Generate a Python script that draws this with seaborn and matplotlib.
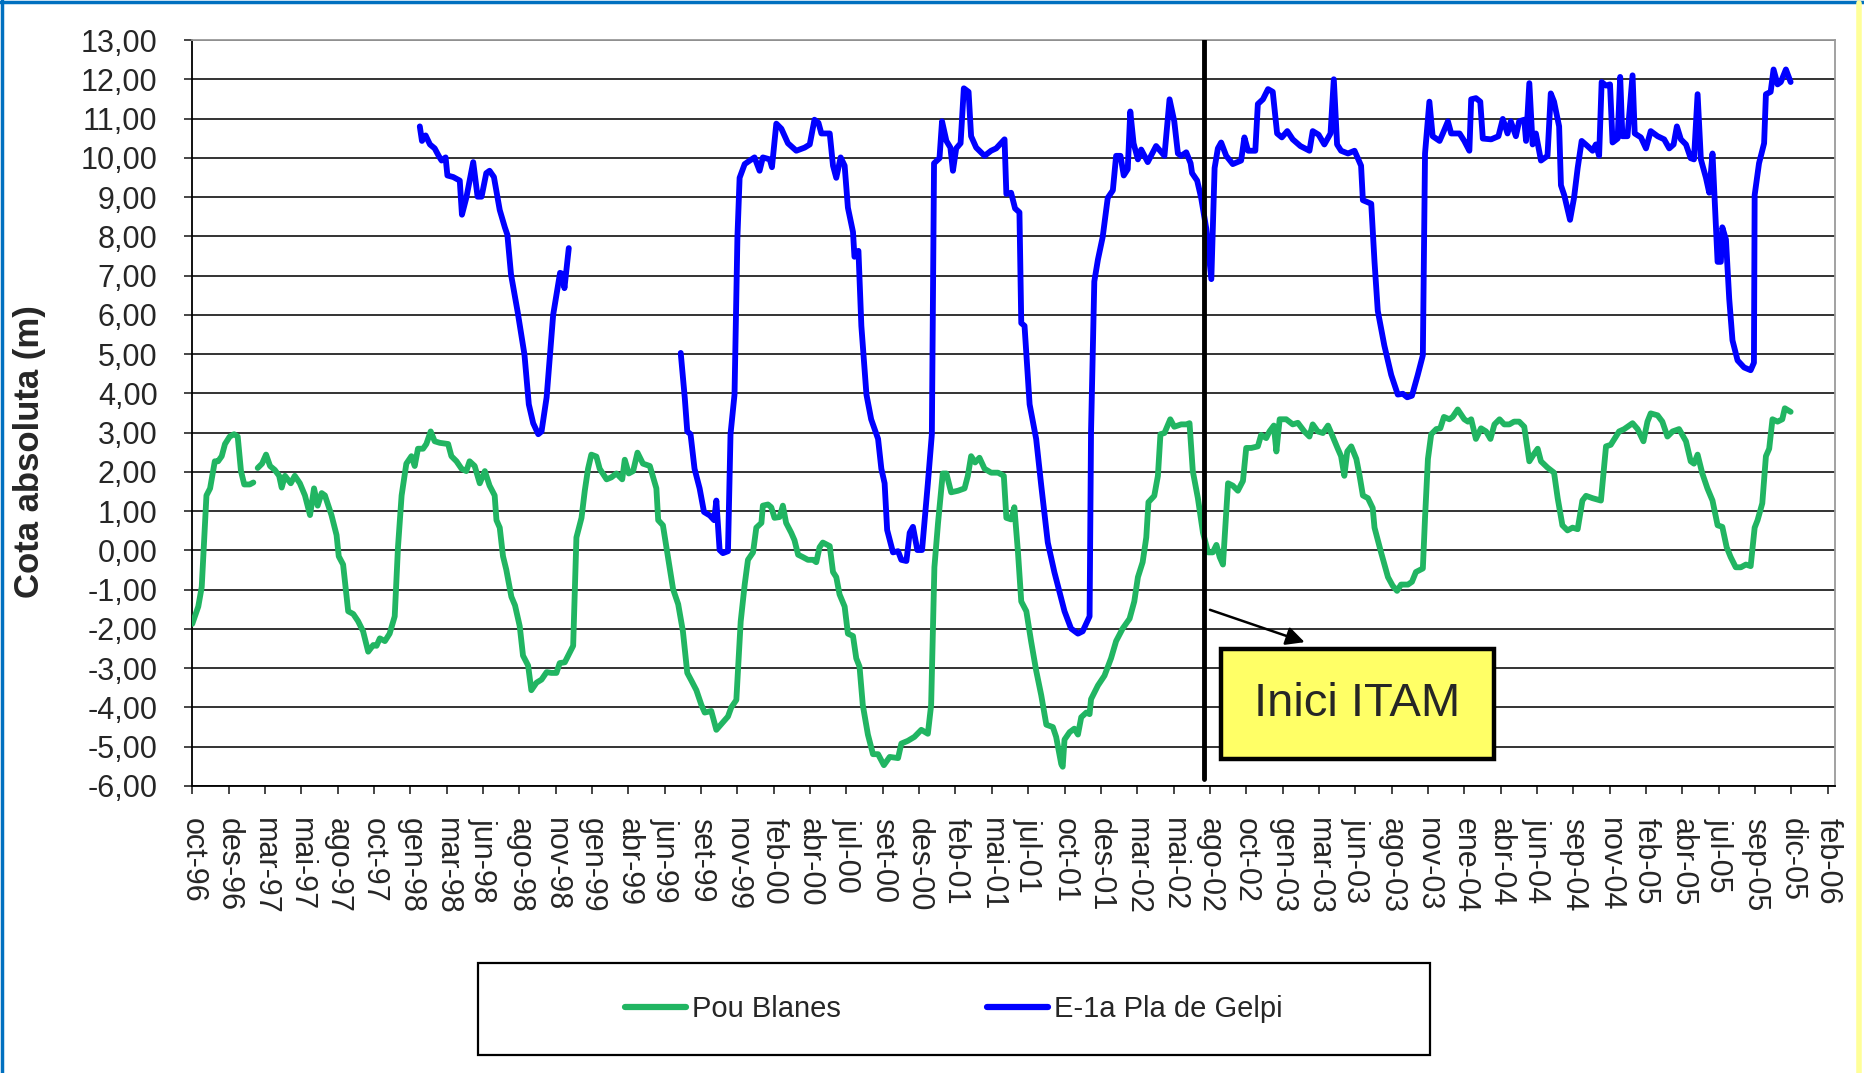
import numpy as np
import pandas as pd
import matplotlib
matplotlib.use("Agg")
import matplotlib.pyplot as plt
import seaborn as sns
from matplotlib.lines import Line2D
from matplotlib.patches import Rectangle

# eix x: posicio en passos d'etiqueta (0 = oct-96, 1 pas ~ 2,5 mesos)
date_labels = ["oct-96", "des-96", "mar-97", "mai-97", "ago-97", "oct-97", "gen-98", "mar-98",
               "jun-98", "ago-98", "nov-98", "gen-99", "abr-99", "jun-99", "set-99", "nov-99",
               "feb-00", "abr-00", "jul-00", "set-00", "des-00", "feb-01", "mai-01", "jul-01",
               "oct-01", "des-01", "mar-02", "mai-02", "ago-02", "oct-02", "gen-03", "mar-03",
               "jun-03", "ago-03", "nov-03", "ene-04", "abr-04", "jun-04", "sep-04", "nov-04",
               "feb-05", "abr-05", "jul-05", "sep-05", "dic-05", "feb-06"]
y_ticks = list(range(-6, 14))

# Pou Blanes (dos trams, hi ha un buit a principis del 97)
pou_t1 = [0.00, 0.165, 0.26, 0.39, 0.49, 0.62, 0.71, 0.81, 0.90, 1.03, 1.15, 1.25, 1.34, 1.43, 1.58, 1.68]
pou_v1 = [-1.87, -1.43, -0.93, 1.40, 1.58, 2.27, 2.27, 2.40, 2.71, 2.90, 2.96, 2.90, 2.02, 1.68, 1.68, 1.73]
pou_t2 = [1.80, 1.92, 2.03, 2.14, 2.27, 2.39, 2.46, 2.55, 2.71, 2.82, 2.96, 3.10, 3.24, 3.35, 3.45, 3.56,
          3.65, 3.83, 3.97, 4.03, 4.15, 4.29, 4.43, 4.56, 4.70, 4.84, 4.98, 5.07, 5.16, 5.30, 5.43, 5.57,
          5.66, 5.76, 5.89, 6.03, 6.12, 6.21, 6.35, 6.44, 6.56, 6.67, 6.81, 7.04, 7.13, 7.27, 7.41, 7.54,
          7.63, 7.77, 7.91, 8.05, 8.18, 8.32, 8.37, 8.46, 8.55, 8.64, 8.78, 8.88, 9.01, 9.10, 9.24, 9.33,
          9.47, 9.61, 9.75, 9.88, 10.02, 10.11, 10.25, 10.48, 10.57, 10.71, 10.80, 10.89, 10.98, 11.12,
          11.21, 11.40, 11.53, 11.67, 11.83, 11.90, 12.01, 12.13, 12.25, 12.40, 12.59, 12.77, 12.82,
          12.95, 13.09, 13.23, 13.37, 13.50, 13.62, 13.73, 13.87, 14.01, 14.10, 14.28, 14.42, 14.56,
          14.74, 14.83, 14.97, 15.09, 15.20, 15.29, 15.43, 15.52, 15.66, 15.70, 15.84, 15.93, 16.02,
          16.16, 16.25, 16.34, 16.48, 16.57, 16.67, 16.80, 16.94, 17.08, 17.17, 17.26, 17.35, 17.54,
          17.63, 17.72, 17.81, 17.95, 18.04, 18.18, 18.27, 18.36, 18.45, 18.59, 18.73, 18.87, 19.03,
          19.19, 19.42, 19.51, 19.69, 19.87, 20.06, 20.24, 20.33, 20.42, 20.52, 20.65, 20.75, 20.88,
          21.07, 21.25, 21.34, 21.43, 21.54, 21.66, 21.80, 21.98, 22.17, 22.33, 22.40, 22.53, 22.62,
          22.72, 22.81, 22.95, 23.08, 23.22, 23.36, 23.50, 23.68, 23.77, 23.91, 23.95, 24.00, 24.14,
          24.27, 24.37, 24.46, 24.60, 24.69, 24.73, 24.92, 25.10, 25.28, 25.42, 25.60, 25.79, 25.92,
          26.02, 26.15, 26.25, 26.31, 26.47, 26.57, 26.64, 26.75, 26.91, 27.02, 27.21, 27.35, 27.44,
          27.53, 27.67, 27.81, 27.95, 28.08, 28.18, 28.27, 28.36, 28.50, 28.63, 28.77, 28.91, 29.00,
          29.14, 29.32, 29.41, 29.55, 29.64, 29.76, 29.83, 29.92, 30.10, 30.28, 30.42, 30.60, 30.74,
          30.83, 30.97, 31.11, 31.25, 31.38, 31.52, 31.61, 31.70, 31.78, 31.89, 32.03, 32.12, 32.21,
          32.35, 32.48, 32.53, 32.71, 32.90, 33.03, 33.15, 33.26, 33.45, 33.56, 33.67, 33.86, 33.92,
          34.00, 34.09, 34.23, 34.34, 34.44, 34.59, 34.68, 34.82, 35.00, 35.10, 35.19, 35.32, 35.46,
          35.60, 35.72, 35.83, 35.97, 36.10, 36.24, 36.37, 36.51, 36.65, 36.79, 36.92, 37.02, 37.11,
          37.29, 37.47, 37.57, 37.70, 37.84, 37.98, 38.12, 38.25, 38.35, 38.53, 38.76, 38.90, 39.03,
          39.26, 39.40, 39.63, 39.77, 39.93, 40.04, 40.13, 40.32, 40.45, 40.59, 40.73, 40.91, 41.10,
          41.23, 41.32, 41.42, 41.55, 41.69, 41.83, 41.97, 42.10, 42.22, 42.33, 42.47, 42.61, 42.75,
          42.88, 42.99, 43.07, 43.20, 43.30, 43.39, 43.48, 43.62, 43.75, 43.82, 43.98]
pou_v2 = [2.10, 2.21, 2.44, 2.15, 2.05, 1.90, 1.60, 1.90, 1.71, 1.90, 1.71, 1.40, 0.90, 1.58, 1.14, 1.46,
          1.40, 0.90, 0.39, -0.15, -0.36, -1.55, -1.62, -1.80, -2.06, -2.58, -2.41, -2.43, -2.24, -2.31,
          -2.12, -1.68, 0.08, 1.40, 2.21, 2.40, 2.15, 2.59, 2.59, 2.71, 3.03, 2.78, 2.74, 2.71, 2.40,
          2.27, 2.08, 2.02, 2.27, 2.15, 1.71, 2.02, 1.65, 1.40, 0.77, 0.58, -0.15, -0.49, -1.18, -1.40,
          -1.93, -2.68, -2.93, -3.56, -3.37, -3.29, -3.10, -3.12, -3.12, -2.87, -2.85, -2.43, 0.33, 0.83,
          1.52, 2.08, 2.44, 2.39, 2.08, 1.81, 1.86, 1.96, 1.81, 2.31, 1.96, 2.02, 2.49, 2.21, 2.15, 1.58,
          0.77, 0.64, -0.17, -0.99, -1.37, -2.06, -3.12, -3.31, -3.56, -3.94, -4.13, -4.09, -4.57, -4.42,
          -4.23, -4.00, -3.81, -1.81, -0.87, -0.24, -0.05, 0.58, 0.70, 1.14, 1.17, 1.10, 0.83, 0.85, 1.14,
          0.70, 0.45, 0.26, -0.11, -0.17, -0.24, -0.24, -0.30, 0.08, 0.20, 0.11, -0.55, -0.68, -1.12,
          -1.43, -2.12, -2.18, -2.75, -2.96, -3.94, -4.69, -5.19, -5.19, -5.47, -5.26, -5.29, -4.92,
          -4.85, -4.75, -4.57, -4.67, -3.94, -0.43, 0.70, 1.96, 1.96, 1.48, 1.52, 1.58, 1.90, 2.40, 2.24,
          2.36, 2.08, 1.98, 1.98, 1.90, 0.83, 0.79, 1.10, -0.05, -1.30, -1.55, -2.31, -3.06, -3.69, -4.44,
          -4.50, -4.75, -5.44, -5.51, -4.82, -4.63, -4.54, -4.69, -4.25, -4.13, -4.17, -3.79, -3.44,
          -3.19, -2.75, -2.31, -1.99, -1.74, -1.30, -0.68, -0.30, 0.33, 1.23, 1.39, 1.90, 2.96, 2.99,
          3.34, 3.15, 3.21, 3.21, 3.24, 2.02, 1.33, 0.45, -0.05, -0.05, 0.14, -0.17, -0.36, 1.71, 1.65,
          1.52, 1.77, 2.61, 2.61, 2.65, 2.94, 2.86, 3.03, 3.18, 2.52, 3.34, 3.34, 3.21, 3.25, 3.03, 2.90,
          3.21, 3.03, 2.99, 3.18, 2.90, 2.59, 2.40, 1.90, 2.52, 2.65, 2.33, 1.90, 1.40, 1.33, 1.08, 0.58,
          -0.05, -0.68, -0.90, -1.03, -0.87, -0.87, -0.80, -0.55, -0.46, 0.83, 2.33, 2.96, 3.09, 3.11,
          3.40, 3.34, 3.40, 3.59, 3.34, 3.28, 3.34, 2.84, 3.11, 3.03, 2.84, 3.21, 3.34, 3.21, 3.21, 3.28,
          3.28, 3.15, 2.27, 2.46, 2.59, 2.27, 2.11, 1.98, 1.33, 0.64, 0.51, 0.58, 0.54, 1.27, 1.39, 1.33,
          1.27, 2.65, 2.69, 3.03, 3.09, 3.24, 3.09, 2.78, 3.28, 3.49, 3.44, 3.28, 2.90, 3.03, 3.09, 2.78,
          2.27, 2.21, 2.44, 1.96, 1.58, 1.27, 0.64, 0.60, 0.08, -0.17, -0.43, -0.43, -0.36, -0.40, 0.58,
          0.77, 1.20, 2.40, 2.59, 3.34, 3.28, 3.34, 3.62, 3.53]

# E-1a Pla de Gelpi (dos trams)
gelpi_t1 = [6.26, 6.32, 6.42, 6.54, 6.67, 6.78, 6.86, 6.97, 7.02, 7.18, 7.36, 7.42, 7.54, 7.73, 7.85, 7.96,
            8.09, 8.18, 8.30, 8.46, 8.60, 8.67, 8.77, 8.95, 9.14, 9.26, 9.38, 9.52, 9.61, 9.75, 9.93,
            10.12, 10.20, 10.24, 10.36]
gelpi_v1 = [10.80, 10.43, 10.57, 10.34, 10.24, 10.05, 9.93, 10.01, 9.55, 9.51, 9.42, 8.55, 8.98, 9.89,
            9.01, 9.01, 9.61, 9.67, 9.51, 8.67, 8.23, 8.04, 7.03, 6.09, 4.99, 3.72, 3.24, 2.96, 3.03, 3.90,
            6.00, 7.07, 7.04, 6.68, 7.70]
gelpi_t2 = [13.44, 13.55, 13.62, 13.71, 13.82, 13.96, 14.08, 14.24, 14.36, 14.42, 14.51, 14.60, 14.74,
            14.81, 14.92, 15.00, 15.06, 15.20, 15.34, 15.47, 15.61, 15.70, 15.89, 15.95, 16.07, 16.21,
            16.39, 16.62, 16.85, 16.99, 17.12, 17.23, 17.31, 17.54, 17.63, 17.72, 17.84, 17.95, 18.04,
            18.18, 18.22, 18.33, 18.41, 18.55, 18.68, 18.87, 18.96, 19.05, 19.12, 19.28, 19.42, 19.51,
            19.65, 19.74, 19.83, 19.95, 20.08, 20.24, 20.35, 20.41, 20.56, 20.63, 20.75, 20.86, 20.93,
            21.02, 21.14, 21.23, 21.36, 21.43, 21.57, 21.80, 21.98, 22.12, 22.35, 22.40, 22.53, 22.64,
            22.76, 22.81, 22.90, 23.04, 23.22, 23.36, 23.54, 23.72, 23.86, 24.00, 24.18, 24.37, 24.50,
            24.69, 24.73, 24.82, 24.92, 25.05, 25.19, 25.33, 25.42, 25.54, 25.63, 25.74, 25.81, 25.90,
            26.02, 26.11, 26.29, 26.52, 26.75, 26.89, 27.02, 27.12, 27.21, 27.35, 27.47, 27.51, 27.65,
            27.76, 27.90, 28.04, 28.13, 28.22, 28.31, 28.45, 28.63, 28.86, 28.95, 29.05, 29.25, 29.32,
            29.46, 29.60, 29.73, 29.85, 29.98, 30.13, 30.28, 30.49, 30.74, 30.83, 30.99, 31.15, 31.32,
            31.41, 31.50, 31.61, 31.80, 31.98, 32.16, 32.21, 32.44, 32.53, 32.62, 32.80, 32.99, 33.17,
            33.31, 33.43, 33.56, 33.72, 33.86, 33.92, 34.04, 34.13, 34.32, 34.41, 34.55, 34.64, 34.87,
            35.00, 35.14, 35.19, 35.32, 35.44, 35.51, 35.74, 35.94, 36.06, 36.19, 36.28, 36.42, 36.51,
            36.65, 36.70, 36.79, 36.88, 36.97, 37.11, 37.29, 37.38, 37.47, 37.61, 37.66, 37.75, 37.91,
            38.02, 38.12, 38.23, 38.39, 38.53, 38.62, 38.71, 38.78, 38.90, 39.01, 39.08, 39.22, 39.29,
            39.35, 39.49, 39.63, 39.69, 39.86, 40.00, 40.13, 40.32, 40.50, 40.64, 40.76, 40.85, 40.96,
            41.10, 41.23, 41.32, 41.42, 41.51, 41.65, 41.74, 41.83, 41.97, 42.06, 42.10, 42.20, 42.29,
            42.38, 42.52, 42.70, 42.88, 42.97, 42.99, 43.11, 43.25, 43.30, 43.43, 43.51, 43.62, 43.71,
            43.85, 43.98]
gelpi_v2 = [5.03, 3.90, 3.03, 2.96, 2.08, 1.58, 0.98, 0.89, 0.77, 1.27, 0.01, -0.07, -0.02, 2.96, 3.97,
            7.98, 9.49, 9.84, 9.93, 10.01, 9.67, 10.01, 9.96, 9.76, 10.87, 10.74, 10.37, 10.18, 10.26,
            10.34, 10.97, 10.89, 10.62, 10.62, 9.80, 9.49, 10.01, 9.80, 8.73, 8.11, 7.48, 7.63, 5.72,
            3.97, 3.34, 2.84, 2.08, 1.71, 0.52, -0.05, -0.02, -0.24, -0.27, 0.45, 0.60, 0.01, 0.01, 1.71,
            2.96, 9.86, 9.99, 10.93, 10.43, 10.26, 9.67, 10.24, 10.37, 11.77, 11.68, 10.55, 10.26, 10.05,
            10.18, 10.24, 10.47, 9.08, 9.11, 8.71, 8.61, 5.79, 5.72, 3.72, 2.84, 1.65, 0.20, -0.55, -1.05,
            -1.55, -1.99, -2.12, -2.06, -1.68, 3.03, 6.85, 7.41, 7.98, 8.98, 9.17, 10.05, 10.05, 9.55,
            9.71, 11.18, 10.37, 9.96, 10.21, 9.89, 10.30, 10.05, 11.49, 10.93, 10.11, 10.05, 10.14, 9.86,
            9.61, 9.42, 8.98, 8.20, 6.91, 9.74, 10.24, 10.39, 10.05, 9.84, 9.93, 10.52, 10.18, 10.18,
            11.37, 11.49, 11.75, 11.68, 10.62, 10.52, 10.68, 10.47, 10.30, 10.18, 10.68, 10.59, 10.34,
            10.62, 12.00, 10.34, 10.18, 10.11, 10.18, 9.80, 8.92, 8.83, 7.35, 6.10, 5.22, 4.47, 3.97,
            3.99, 3.90, 3.94, 4.47, 4.97, 10.11, 11.43, 10.55, 10.43, 10.62, 10.93, 10.62, 10.62, 10.43,
            10.18, 11.49, 11.52, 11.43, 10.49, 10.47, 10.55, 10.99, 10.62, 10.93, 10.55, 10.93, 10.97,
            10.43, 11.90, 10.34, 10.62, 9.93, 10.05, 11.64, 11.43, 10.80, 9.30, 9.05, 8.42, 8.98, 9.74,
            10.43, 10.30, 10.18, 10.34, 10.05, 11.93, 11.84, 11.87, 10.39, 10.49, 12.06, 10.55, 10.55,
            12.10, 10.62, 10.52, 10.24, 10.68, 10.55, 10.47, 10.24, 10.34, 10.80, 10.47, 10.34, 9.99,
            9.96, 11.62, 9.96, 9.49, 9.11, 10.11, 7.35, 7.35, 8.23, 7.92, 6.41, 5.35, 4.84, 4.66, 4.59,
            4.78, 9.05, 9.86, 10.37, 11.62, 11.68, 12.25, 11.87, 11.93, 12.25, 11.93]

itam_t = 27.83  # inici ITAM (linia vertical)

pou = pd.concat([pd.DataFrame({"t": pou_t1, "cota": pou_v1, "tram": 1}),
                 pd.DataFrame({"t": pou_t2, "cota": pou_v2, "tram": 2})])
gelpi = pd.concat([pd.DataFrame({"t": gelpi_t1, "cota": gelpi_v1, "tram": 1}),
                   pd.DataFrame({"t": gelpi_t2, "cota": gelpi_v2, "tram": 2})])

GREEN = "#21B562"
BLUE = "#0000FF"

sns.set_style("white")
plt.rcParams["font.family"] = ["Liberation Sans", "DejaVu Sans"]

fig = plt.figure(figsize=(18.65, 10.73), dpi=100)
ax = fig.add_axes([0.1031, 0.2675, 0.8808, 0.6952])

for yv in y_ticks:
    ax.axhline(yv, color="#111111", lw=1.2, zorder=1)

sns.lineplot(data=pou, x="t", y="cota", units="tram", estimator=None, sort=False,
             color=GREEN, lw=4.2, ax=ax, zorder=3)
sns.lineplot(data=gelpi, x="t", y="cota", units="tram", estimator=None, sort=False,
             color=BLUE, lw=4.2, ax=ax, zorder=3)

ax.axvline(itam_t, ymin=0.01, ymax=1.0, color="black", lw=3.5, zorder=4)

ax.set_xlim(0, 45.2)
ax.set_ylim(-6, 13)
ax.set_xticks(range(len(date_labels)))
ax.set_xticklabels(date_labels, rotation=-90, fontsize=22, ha="center", va="top")
ax.set_yticks(y_ticks)
ax.set_yticklabels([f"{v:.2f}".replace(".", ",") for v in y_ticks], fontsize=22)
ax.tick_params(axis="x", direction="out", length=6, width=1.2, pad=17, bottom=True)
ax.tick_params(axis="y", direction="out", length=6, width=1.2, pad=19, left=True)
ax.set_xlabel("")
ax.set_ylabel("Cota absoluta (m)", fontsize=25, fontweight="bold", va="center")
ax.yaxis.set_label_coords(-0.099, 0.448)

for side in ["left", "bottom"]:
    ax.spines[side].set_color("black")
    ax.spines[side].set_linewidth(1.3)
for side in ["top", "right"]:
    ax.spines[side].set_color("#9a9a9a")
    ax.spines[side].set_linewidth(1.3)

# fletxa i caixa "Inici ITAM"
ax.annotate("", xy=(30.68, -2.36), xytext=(27.93, -1.49),
            arrowprops=dict(arrowstyle="-|>", color="black", lw=1.8, mutation_scale=28), zorder=5)
ax.text(32.06, -3.91, "Inici ITAM", fontsize=34, ha="center", va="center", zorder=6,
        bbox=dict(boxstyle="square,pad=0.7", facecolor="#FFFF66", edgecolor="black", lw=3.2))

# llegenda amb marc propi
fig.add_artist(Rectangle((0.2563, 0.0168), 0.5105, 0.0857, transform=fig.transFigure,
                         facecolor="white", edgecolor="black", lw=1.6))
handles = [Line2D([], [], color=GREEN, lw=4.5), Line2D([], [], color=BLUE, lw=4.5)]
fig.legend(handles, ["Pou Blanes", "E-1a Pla de Gelpi"], loc="center",
           bbox_to_anchor=(0.5115, 0.0596), ncol=2, frameon=False, fontsize=21,
           handlelength=2.1, handletextpad=0.2, columnspacing=5.0)

# vores de la diapositiva
fig.add_artist(Line2D([0, 1], [0.9985, 0.9985], transform=fig.transFigure, color="#0070C0", lw=2.5))
fig.add_artist(Line2D([0.0012, 0.0012], [0, 1], transform=fig.transFigure, color="#0070C0", lw=2.5))
fig.add_artist(Line2D([0.9968, 0.9968], [0, 0.997], transform=fig.transFigure, color="#FFFF99", lw=4))

fig.savefig("out.png", dpi=100)
